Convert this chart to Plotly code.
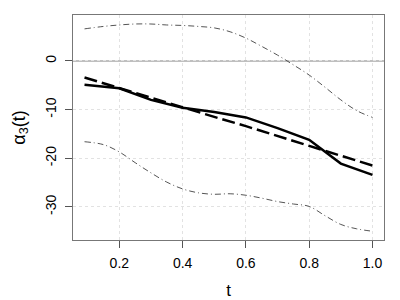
import plotly.graph_objects as go

t = [0.09, 0.2, 0.3, 0.4, 0.5, 0.6, 0.7, 0.8, 0.9, 1.0]
estimate = [-4.9, -5.6, -8.0, -9.6, -10.5, -11.6, -13.8, -16.2, -21.1, -23.4]
linear_fit = [-3.4, -5.6, -7.6, -9.6, -11.5, -13.4, -15.4, -17.4, -19.5, -21.5]
t_band = [0.09, 0.15, 0.2, 0.25, 0.3, 0.35, 0.4, 0.45, 0.5, 0.55, 0.6, 0.65, 0.7, 0.75, 0.8, 0.85, 0.9, 0.95, 1.0]
upper = [6.6, 7.1, 7.4, 7.6, 7.6, 7.4, 7.3, 7.1, 6.8, 6.0, 4.7, 3.0, 1.2, -0.8, -2.9, -5.4, -8.0, -10.2, -11.6]
lower = [-16.6, -17.2, -18.7, -20.9, -23.0, -24.9, -26.3, -27.1, -27.4, -27.3, -27.6, -28.2, -28.9, -29.4, -29.9, -31.8, -33.6, -34.5, -35.0]

x_ticks = [0.2, 0.4, 0.6, 0.8, 1.0]
x_labels = ["0.2", "0.4", "0.6", "0.8", "1.0"]
y_ticks = [-30, -20, -10, 0]
y_labels = ["-30", "-20", "-10", "0"]

fig = go.Figure()
fig.add_trace(go.Scatter(x=t_band, y=upper, mode="lines", line=dict(color="#555555", width=1, dash="6px,3px,1px,3px", shape="spline")))
fig.add_trace(go.Scatter(x=t_band, y=lower, mode="lines", line=dict(color="#555555", width=1, dash="6px,3px,1px,3px", shape="spline")))
fig.add_trace(go.Scatter(x=t, y=linear_fit, mode="lines", line=dict(color="black", width=2.5, dash="13px,5px")))
fig.add_trace(go.Scatter(x=t, y=estimate, mode="lines", line=dict(color="black", width=2.5)))

fig.add_hline(y=0, line=dict(color="#aaaaaa", width=1.5), layer="below")

fig.update_layout(
    width=400, height=300,
    margin=dict(l=73, r=16, t=15, b=60),
    paper_bgcolor="white", plot_bgcolor="white",
    showlegend=False,
    font=dict(family="Liberation Sans, Arial, sans-serif", color="black", size=14),
)
fig.update_xaxes(
    range=[0.0536, 1.0364], tickvals=x_ticks, ticktext=x_labels, automargin=False,
    showgrid=True, gridcolor="#e2e2e2", griddash="dot", gridwidth=1,
    zeroline=False, showline=True, linecolor="#777777", linewidth=1, mirror=True,
    ticks="outside", ticklen=7, tickcolor="#555555", tickfont=dict(size=14),
    ticklabelstandoff=3,
    title=dict(text="t", font=dict(size=17), standoff=16),
)
fig.update_yaxes(
    range=[-36.8, 9.45], tickvals=y_ticks, ticktext=y_labels, tickangle=-90, automargin=False,
    showgrid=True, gridcolor="#e2e2e2", griddash="dot", gridwidth=1,
    zeroline=False, showline=True, linecolor="#777777", linewidth=1, mirror=True,
    ticks="outside", ticklen=7, tickcolor="#555555", tickfont=dict(size=14),
    ticklabelstandoff=3,
    title=dict(text="α<sub>3</sub>(t)", font=dict(size=18), standoff=13),
)

fig.write_html("out.html", config={"displayModeBar": False},
               post_script="document.body.style.margin='0';")
